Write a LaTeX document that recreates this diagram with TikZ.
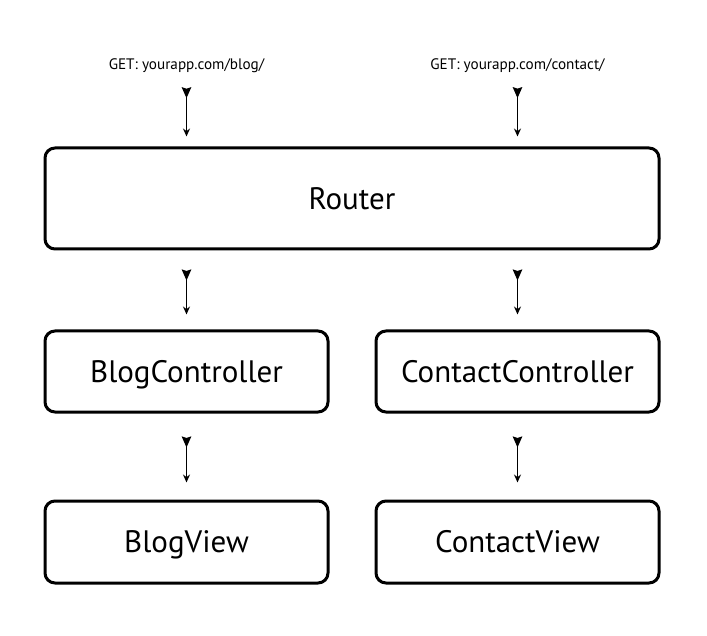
\documentclass[tikz,border=0pt]{standalone}
\usepackage{fontspec}
\setmainfont{PT Sans}
\usetikzlibrary{arrows.meta}
\begin{document}
\begin{tikzpicture}[x=1pt,y=-1pt]
    \def\lx{186.5}
    \def\rx{517.5}

    \tikzstyle{box}=[draw=black,line width=3pt,rounded corners=10pt,align=center,text height=21.5pt,text depth=0pt,font=\fontsize{31}{34}\selectfont]
    \tikzstyle{request}=[font=\fontsize{15.2}{17}\selectfont,inner sep=2pt]
    \tikzstyle{flow}=[draw=black,line width=1.4pt,{Stealth[reversed,inset=1.5pt,length=11pt,width=9.5pt]}-{Stealth[length=8pt,width=7pt]}]

    \useasboundingbox (0,0) rectangle (707,636);

    \node[request] (blogget)    at (\lx,66) {GET: yourapp.com/blog/};
    \node[request] (contactget) at (\rx,66) {GET: yourapp.com/contact/};

    \node[box,minimum width=614pt,minimum height=101pt] (router) at (352,198.5) {Router};

    \node[box,minimum width=283pt,minimum height=81pt] (blogc)    at (\lx,371.5) {BlogController};
    \node[box,minimum width=283pt,minimum height=81pt] (contactc) at (\rx,371.5) {ContactController};

    \node[box,minimum width=283pt,minimum height=82pt] (blogv)    at (\lx,542) {BlogView};
    \node[box,minimum width=283pt,minimum height=82pt] (contactv) at (\rx,542) {ContactView};

    \draw [flow,shorten <=12pt,shorten >=10pt] (blogget.south) -- (router.north -| blogget.south);
    \draw [flow,shorten <=12pt,shorten >=10pt] (contactget.south) -- (router.north -| contactget.south);

    \draw [flow,shorten <=19pt,shorten >=15pt] (router.south -| blogc.north) -- (blogc.north);
    \draw [flow,shorten <=19pt,shorten >=15pt] (router.south -| contactc.north) -- (contactc.north);

    \draw [flow,shorten <=23pt,shorten >=17pt] (blogc.south) -- (blogv.north);
    \draw [flow,shorten <=23pt,shorten >=17pt] (contactc.south) -- (contactv.north);
\end{tikzpicture}
\end{document}
